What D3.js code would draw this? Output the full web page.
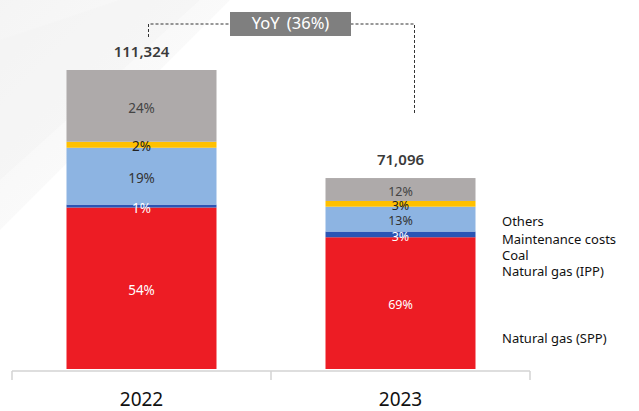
<!DOCTYPE html>
<html>
<head>
<meta charset="utf-8">
<script src="https://cdn.jsdelivr.net/npm/d3@7"></script>
<style>
  body { margin: 0; background: #fff; }
  text { font-family: "Noto Sans", "Open Sans", sans-serif; }
</style>
</head>
<body>
<script>
'use strict';

const years = ['2022', '2023']
const totals = [111324, 71096]
const totalLabels = ['111,324', '71,096']
const categories = ['Natural gas (SPP)', 'Natural gas (IPP)', 'Coal', 'Maintenance costs', 'Others']
const share2022 = [54, 1, 19, 2, 24]
const share2023 = [69, 3, 13, 3, 12]
const yoyLabel = 'YoY (36%)'

const colors = ['#ED1C24', '#2B55B5', '#8DB4E2', '#FFC000', '#AEAAAA']
const labelColors = ['#ffffff', '#ffffff', '#333333', '#222222', '#444444']

const m = { width: 639, height: 411, base: 369, top: 70 }

const svg = d3.select('body')
  .append('svg')
  .attr('width', m.width)
  .attr('height', m.height)

// faint background decoration
const defs = svg.append('defs')
const grad = defs.append('linearGradient')
  .attr('id', 'bgGrad')
  .attr('x1', '0').attr('y1', '0').attr('x2', '1').attr('y2', '1')
grad.append('stop').attr('offset', '0%').attr('stop-color', '#f0f0f0')
grad.append('stop').attr('offset', '100%').attr('stop-color', '#ffffff')
svg.append('polygon')
  .attr('points', '0,0 230,0 0,230')
  .attr('fill', 'url(#bgGrad)')
  .attr('opacity', 0.7)
svg.append('polygon')
  .attr('points', '0,40 120,0 200,0 0,180')
  .attr('fill', '#f4f4f4')
  .attr('opacity', 0.6)

const x = d3.scaleBand()
  .domain(years)
  .range([12, 530])
  .padding(0)

const barW = 150

const y = d3.scaleLinear()
  .domain([0, totals[0]])
  .range([m.base, m.top])

const shares = [share2022, share2023]

// build stacked rows
const rows = years.map((yr, i) => {
  let row = { year: yr }
  categories.forEach((c, j) => { row[c] = totals[i] * shares[i][j] / 100 })
  return row
})

const stack = d3.stack().keys(categories)
const series = stack(rows)

const groups = svg.selectAll('g.layer')
  .data(series)
  .enter().append('g')
  .attr('class', 'layer')
  .attr('fill', (d, i) => colors[i])

groups.selectAll('rect')
  .data(d => d)
  .enter().append('rect')
  .attr('x', d => x(d.data.year) + (x.bandwidth() - barW) / 2)
  .attr('y', d => y(d[1]))
  .attr('width', barW)
  .attr('height', d => y(d[0]) - y(d[1]))

// percent labels
series.forEach((s, j) => {
  svg.selectAll('text.pct' + j)
    .data(s)
    .enter().append('text')
    .attr('class', 'pct' + j)
    .attr('x', d => x(d.data.year) + x.bandwidth() / 2)
    .attr('y', d => (y(d[0]) + y(d[1])) / 2 + 3)
    .attr('text-anchor', 'middle')
    .attr('dominant-baseline', 'middle')
    .style('font-size', (d, i) => i === 1 ? '12.5px' : '13.5px')
    .style('fill', labelColors[j])
    .text((d, i) => shares[i][j] + '%')
})

// totals
svg.selectAll('text.total')
  .data(years)
  .enter().append('text')
  .attr('class', 'total')
  .attr('x', d => x(d) + x.bandwidth() / 2)
  .attr('y', (d, i) => y(totals[i]) - 17)
  .attr('text-anchor', 'middle')
  .attr('dominant-baseline', 'middle')
  .style('font-size', '15px')
  .style('font-weight', '600')
  .style('fill', '#3a3a3a')
  .text((d, i) => totalLabels[i])

// axis
const axisY = 371
const xAxis = d3.axisBottom(x).tickSize(0).tickPadding(22)
const axisG = svg.append('g')
  .attr('transform', 'translate(0,' + axisY + ')')
  .call(xAxis)
axisG.select('.domain').remove()
axisG.selectAll('text')
  .style('font-size', '19px')
  .style('fill', '#111')
  .style('font-family', '"Noto Sans", sans-serif')

const bounds = [x(years[0]), x(years[1]), x(years[1]) + x.bandwidth()]
axisG.append('line')
  .attr('x1', bounds[0]).attr('x2', bounds[2])
  .attr('y1', 0).attr('y2', 0)
  .attr('stroke', '#d3d3d3').attr('stroke-width', 1.5)
axisG.selectAll('line.bound')
  .data(bounds)
  .enter().append('line')
  .attr('class', 'bound')
  .attr('x1', d => d).attr('x2', d => d)
  .attr('y1', 0).attr('y2', 9)
  .attr('stroke', '#d3d3d3').attr('stroke-width', 1.5)

// legend
const legendY = [340, 273, 257, 241, 223]
svg.selectAll('text.legend')
  .data(categories)
  .enter().append('text')
  .attr('class', 'legend')
  .attr('x', 502)
  .attr('y', (d, i) => legendY[i])
  .attr('dominant-baseline', 'middle')
  .style('font-size', '13px')
  .style('fill', '#111')
  .text(d => d)

// YoY connector
const c0 = x(years[0]) + x.bandwidth() / 2 + 7
const c1 = x(years[1]) + x.bandwidth() / 2 + 14
const connY = 24
svg.append('path')
  .attr('d', 'M' + c0 + ',' + (y(totals[0]) - 33) + 'V' + connY + 'H' + c1 + 'V' + (y(totals[1]) - 64))
  .attr('fill', 'none')
  .attr('stroke', '#333')
  .attr('stroke-width', 1)
  .attr('stroke-dasharray', '3,2')

const boxX = 230, boxW = 121, boxH = 24
svg.append('rect')
  .attr('x', boxX)
  .attr('y', connY - boxH / 2)
  .attr('width', boxW)
  .attr('height', boxH)
  .attr('fill', '#7f7f7f')
svg.append('text')
  .attr('x', boxX + boxW / 2)
  .attr('y', connY + 1)
  .attr('text-anchor', 'middle')
  .attr('dominant-baseline', 'middle')
  .style('font-size', '16.5px')
  .style('fill', '#fff')
  .style('word-spacing', '3px')
  .text(yoyLabel)
</script>
</body>
</html>
